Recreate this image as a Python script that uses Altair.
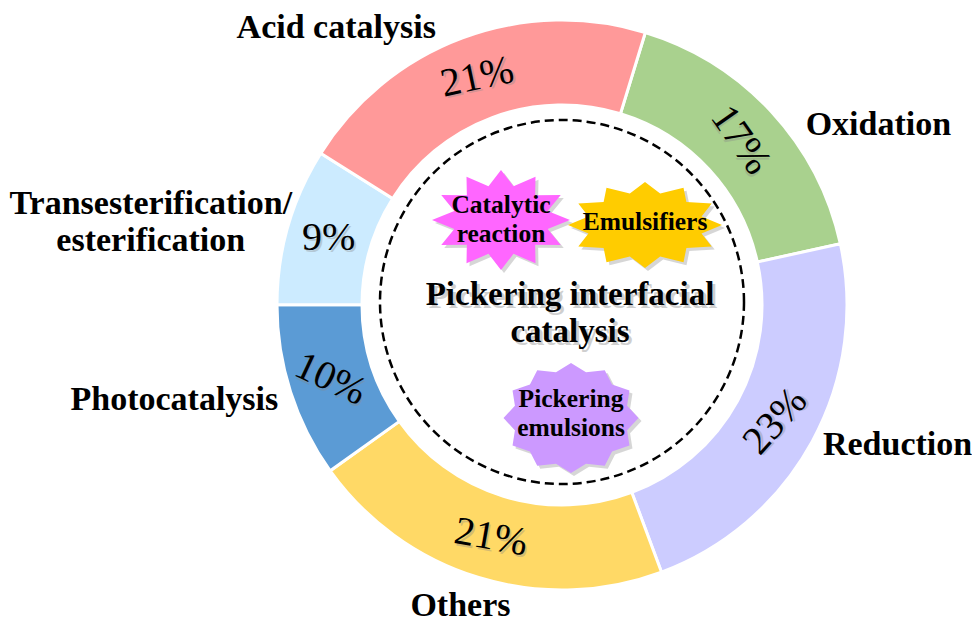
import altair as alt
import pandas as pd
import numpy as np

# ---- data ----
categories = ["Oxidation", "Reduction", "Others", "Photocatalysis",
              "Transesterification/\nesterification", "Acid catalysis"]
values = [17, 23, 21, 10, 9, 21]
pct_labels = ["17%", "23%", "21%", "10%", "9%", "21%"]
colors = ["#A9D18E", "#CCCCFF", "#FFD966", "#5B9BD5", "#CCEBFF", "#FF9999"]
label_rotation = [55, 312, 10, 25, 0, 348]

center_title = ["Pickering interfacial\ncatalysis"]
star_labels = ["Catalytic\nreaction", "Emulsifiers", "Pickering\nemulsions"]
star_colors = ["#FF66FF", "#FFCC00", "#CC99FF"]

df = pd.DataFrame({"cat": categories, "value": values, "pct": pct_labels,
                   "idx": list(range(len(categories))), "rot": label_rotation})
total = sum(values)

# ---- layout ----
W, H = 964, 614
CX, CY = 554, 297          # donut centre (chart coords)
R_OUT, R_IN = 285, 200
START = np.deg2rad(17)
FONT = "Liberation Serif"

theta_scale = alt.Scale(domain=[0, total], range=[START, START + 2 * np.pi])

arcs = alt.Chart(df).mark_arc(outerRadius=R_OUT, innerRadius=R_IN,
                              stroke="white", strokeWidth=3).encode(
    theta=alt.Theta("value:Q", stack=True, scale=theta_scale),
    order=alt.Order("idx:Q", sort="ascending"),
    color=alt.Color("cat:N", scale=alt.Scale(domain=categories, range=colors), legend=None),
    x=alt.value(CX), y=alt.value(CY),
)

stacked = alt.Chart(df).transform_stack(
    stack="value", groupby=[], as_=["v0", "v1"],
    sort=[alt.SortField("idx", order="ascending")],
).transform_calculate(mid="(datum.v0 + datum.v1) / 2")

pct_shadow = stacked.mark_text(radius=243, font=FONT, fontSize=40, color="#888888",
                               opacity=0.35, dx=2, dy=2).encode(
    theta=alt.Theta("mid:Q", scale=theta_scale),
    text="pct:N", angle=alt.Angle("rot:Q", scale=None),
    x=alt.value(CX), y=alt.value(CY))
pct_text = stacked.mark_text(radius=243, font=FONT, fontSize=40, color="black").encode(
    theta=alt.Theta("mid:Q", scale=theta_scale),
    text="pct:N", angle=alt.Angle("rot:Q", scale=None),
    x=alt.value(CX), y=alt.value(CY))

label_style = {  # idx: (align, radius, dx, dy)
    0: ("left", 303, 21, 25),
    1: ("left", 304, -6, -5),
    2: ("center", 320, -8, -5),
    3: ("right", 300, 2, 4),
    4: ("center", 300, -123, -18),
    5: ("right", 304, -20, 8),
}
outer_layers = []
for i, (al, rad, dx, dy) in label_style.items():
    outer_layers.append(
        stacked.transform_filter(alt.datum.idx == i).mark_text(
            radius=rad, align=al, baseline="middle", dx=dx, dy=dy, font=FONT,
            fontSize=34, fontWeight="bold", lineBreak="\n", lineHeight=37,
            color="black").encode(
            theta=alt.Theta("mid:Q", scale=theta_scale), text="cat:N",
            x=alt.value(CX), y=alt.value(CY)))

# dashed circle
circle_df = pd.DataFrame({"k": [0]})
dashed = alt.Chart(circle_df).mark_point(
    shape="circle", size=364 ** 2, filled=False, stroke="black",
    strokeWidth=2.5, strokeDash=[9, 5], opacity=1).encode(
    x=alt.value(CX), y=alt.value(CY - 3))


def star_path(n, inner, yscale):
    pts = []
    for k in range(2 * n):
        r = 1.0 if k % 2 == 0 else inner
        a = np.pi * k / n
        pts.append((r * np.sin(a), -r * np.cos(a) * yscale))
    return "M" + "L".join(f"{x:.4f},{y:.4f}" for x, y in pts) + "Z"


star_geom = [  # (n, inner, width, height, x, y, text dy)
    (12, 0.70, 138, 100, 493, 212, -15),
    (12, 0.76, 154, 86, 637, 217, -3),
    (12, 0.86, 135, 110, 563, 410, -19),
]
star_layers = []
for lab, col, (n, inner, w, h, sx, sy, tdy) in zip(star_labels, star_colors, star_geom):
    p = star_path(n, inner, h / w)
    sdf = pd.DataFrame({"label": [lab]})
    star_layers.append(alt.Chart(sdf).mark_point(
        shape=p, size=w * w, filled=True, fill="#777777", opacity=0.3, strokeWidth=0).encode(
        x=alt.value(sx + 3), y=alt.value(sy + 3)))
    star_layers.append(alt.Chart(sdf).mark_point(
        shape=p, size=w * w, filled=True, fill=col, opacity=1, strokeWidth=0).encode(
        x=alt.value(sx), y=alt.value(sy)))
    star_layers.append(alt.Chart(sdf).mark_text(
        font=FONT, fontSize=25.5, fontWeight="bold", lineBreak="\n", lineHeight=29,
        color="black", baseline="middle").encode(
        text="label:N", x=alt.value(sx), y=alt.value(sy + tdy)))

title_df = pd.DataFrame({"t": center_title})
title_shadow = alt.Chart(title_df).mark_text(
    font=FONT, fontSize=33, fontWeight="bold", lineBreak="\n", lineHeight=37,
    color="#777777", opacity=0.35, baseline="middle").encode(
    text="t:N", x=alt.value(CX + 8 + 3), y=alt.value(287 + 3))
title_text = alt.Chart(title_df).mark_text(
    font=FONT, fontSize=33, fontWeight="bold", lineBreak="\n", lineHeight=37,
    color="black", baseline="middle").encode(
    text="t:N", x=alt.value(CX + 8), y=alt.value(287))

chart = alt.layer(
    arcs, pct_shadow, pct_text, *outer_layers, dashed, *star_layers,
    title_shadow, title_text,
).properties(
    width=W, height=H, autosize="none", padding=0, background="white"
).configure_view(stroke=None)

chart.save("out.html", embed_options={"renderer": "svg", "actions": False})
